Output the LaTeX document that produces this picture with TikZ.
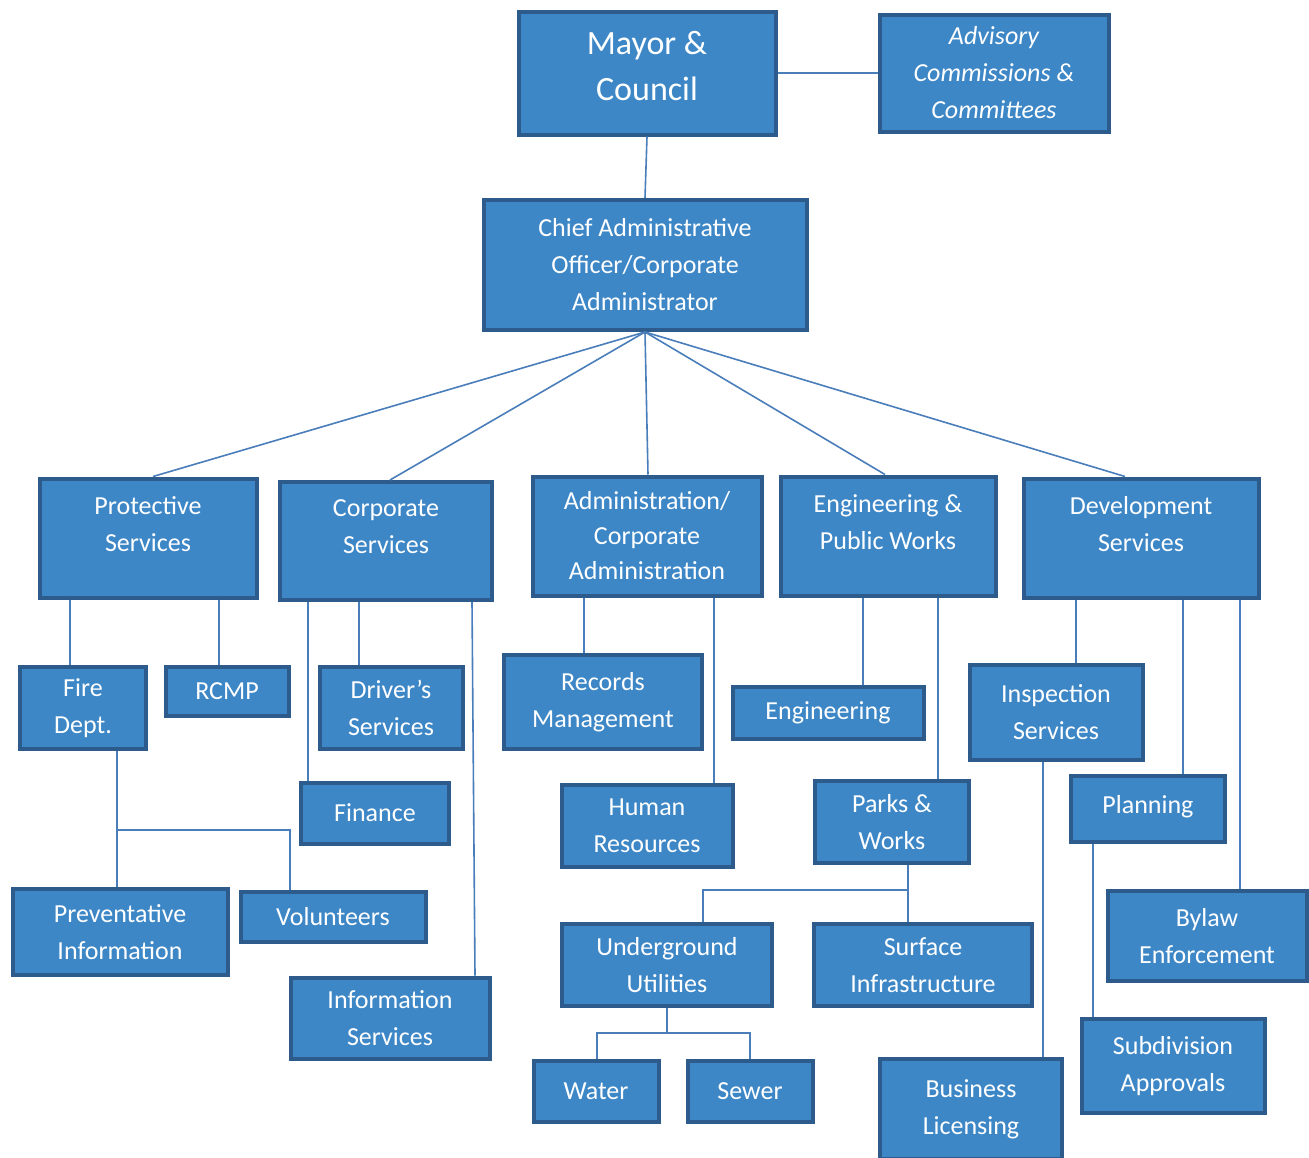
\documentclass[tikz,border=0pt]{standalone}
\usepackage{fontspec}
\setmainfont{Carlito}
\definecolor{unitfill}{RGB}{61,135,199}
\definecolor{unitedge}{RGB}{45,92,140}
\definecolor{linkcol}{RGB}{74,126,187}
\tikzset{
  unit/.style={draw=unitedge,fill=unitfill,line width=4pt,text=white,
    align=center,inner sep=0pt,font=\fontsize{26}{37}\selectfont},
  sz/.style 2 args={minimum width=#1pt,minimum height=#2pt},
  link/.style={draw=linkcol,line width=1.6pt}
}
\begin{document}
\begin{tikzpicture}[x=1pt,y=-1pt]
 \useasboundingbox[fill=white] (0,0) rectangle (1309,1157);
 % top level
 \node[unit,sz={257}{123},font=\fontsize{34}{46}\selectfont] (mayor) at (647,73) {Mayor \&\\Council\\[-32pt]};
 \node[unit,sz={229}{117},font=\itshape\fontsize{26}{37}\selectfont] (adv) at (994,73) {Advisory\\Commissions \&\\Committees};
 \node[unit,sz={323}{130}] (cao) at (645,265) {Chief Administrative\\Officer/Corporate\\Administrator};
 % departments
 \node[unit,sz={217}{119}] (prot) at (148,538) {Protective\\Services\\[-9pt]};
 \node[unit,sz={212}{118}] (corp) at (386,541) {Corporate\\Services\\[-9pt]};
 \node[unit,sz={229}{119},font=\fontsize{26}{35}\selectfont] (admin) at (647,536) {Administration/\\Corporate\\Administration};
 \node[unit,sz={215}{119}] (eng) at (888,536) {Engineering \&\\Public Works\\[-9pt]};
 \node[unit,sz={235}{119}] (dev) at (1141,538) {Development\\Services\\[-9pt]};
 % units
 \node[unit,sz={126}{82}] (fire) at (83,708) {Fire\\Dept.};
 \node[unit,sz={123}{49}] (rcmp) at (227,691) {RCMP};
 \node[unit,sz={143}{82}] (drv) at (391,708) {Driver’s\\Services};
 \node[unit,sz={148}{61}] (fin) at (375,813) {Finance};
 \node[unit,sz={198}{94}] (rec) at (603,702) {Records\\Management};
 \node[unit,sz={171}{82}] (hr) at (647,826) {Human\\Resources};
 \node[unit,sz={191}{52}] (engr) at (828,713) {Engineering};
 \node[unit,sz={154}{82}] (parks) at (892,822) {Parks \&\\Works};
 \node[unit,sz={173}{95}] (insp) at (1056,712) {Inspection\\Services};
 \node[unit,sz={154}{66}] (plan) at (1148,809) {Planning\\[-27pt]};
 \node[unit,sz={199}{90}] (bylaw) at (1207,936) {Bylaw\\Enforcement};
 \node[unit,sz={183}{94}] (subd) at (1173,1066) {Subdivision\\Approvals};
 \node[unit,sz={182}{100}] (bus) at (971,1109) {Business\\Licensing};
 \node[unit,sz={215}{86}] (prev) at (120,932) {Preventative\\Information};
 \node[unit,sz={185}{50}] (vol) at (333,917) {Volunteers};
 \node[unit,sz={210}{82}] (ug) at (667,965) {Underground\\Utilities};
 \node[unit,sz={218}{82}] (surf) at (923,965) {Surface\\Infrastructure};
 \node[unit,sz={125}{61}] (water) at (596,1091) {Water};
 \node[unit,sz={125}{61}] (sewer) at (750,1091) {Sewer};
 \node[unit,sz={199}{81}] (info) at (390,1018) {Information\\Services};
 % connectors
 \path[link] (mayor.east) -- (adv.west);
 \path[link] (mayor.south) -- (cao.north);
 \foreach \d/\x in {prot/153,corp/390,admin/648,eng/885,dev/1125}
   \path[link] (cao.south) -- (\d.north -| \x,0);
 \path[link] (prot.south -| 70,0) -- (fire.north -| 70,0);
 \path[link] (prot.south -| 219,0) -- (rcmp.north -| 219,0);
 \path[link] (corp.south -| 359,0) -- (drv.north -| 359,0);
 \path[link] (corp.south -| 308,0) -- (fin.north -| 308,0);
 \path[link] (corp.south -| 472,0) -- (info.north -| 475,0);
 \path[link] (admin.south -| 584,0) -- (rec.north -| 584,0);
 \path[link] (admin.south -| 714,0) -- (hr.north -| 714,0);
 \path[link] (eng.south -| 863,0) -- (engr.north -| 863,0);
 \path[link] (eng.south -| 938,0) -- (parks.north -| 938,0);
 \path[link] (dev.south -| 1076,0) -- (insp.north -| 1076,0);
 \path[link] (dev.south -| 1183,0) -- (plan.north -| 1183,0);
 \path[link] (dev.south -| 1240,0) -- (bylaw.north -| 1240,0);
 \path[link] (fire.south -| 117,0) -- (prev.north -| 117,0);
 \path[link] (117,830) -| (vol.north -| 290,0);
 \path[link] (parks.south -| 908,0) -- (surf.north -| 908,0);
 \path[link] (908,890) -| (ug.north -| 703,0);
 \path[link] (ug.south) -- (667,1033) coordinate (ugsplit);
 \path[link] (ugsplit) -| (water.north -| 597,0);
 \path[link] (ugsplit) -| (sewer.north -| 750,0);
 \path[link] (insp.south -| 1043,0) -- (bus.north -| 1043,0);
 \path[link] (plan.south -| 1093,0) -- (subd.north -| 1093,0);
\end{tikzpicture}
\end{document}
